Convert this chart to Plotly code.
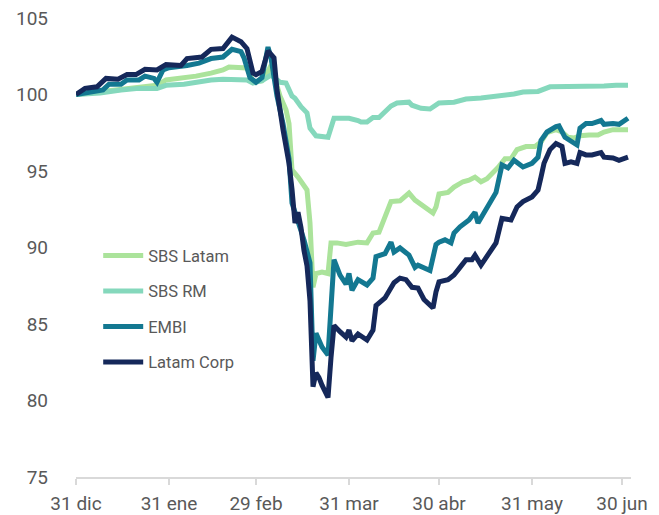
import plotly.graph_objects as go

# SBS Latam
sbs_latam_dates = ["2019-12-31", "2020-01-09", "2020-01-16", "2020-01-22", "2020-01-27", "2020-01-30",
                   "2020-02-05", "2020-02-09", "2020-02-14", "2020-02-18", "2020-02-20", "2020-02-26",
                   "2020-02-28", "2020-03-02", "2020-03-03", "2020-03-05", "2020-03-08", "2020-03-10",
                   "2020-03-11", "2020-03-12", "2020-03-14", "2020-03-16", "2020-03-17", "2020-03-18",
                   "2020-03-19", "2020-03-20", "2020-03-22", "2020-03-24", "2020-03-25", "2020-03-27",
                   "2020-03-30", "2020-04-03", "2020-04-06", "2020-04-08", "2020-04-10", "2020-04-12",
                   "2020-04-14", "2020-04-17", "2020-04-20", "2020-04-22", "2020-04-24", "2020-04-25",
                   "2020-04-28", "2020-04-29", "2020-04-30", "2020-05-03", "2020-05-05", "2020-05-08",
                   "2020-05-10", "2020-05-12", "2020-05-14", "2020-05-16", "2020-05-18", "2020-05-20",
                   "2020-05-22", "2020-05-24", "2020-05-26", "2020-05-29", "2020-06-01", "2020-06-03",
                   "2020-06-05", "2020-06-08", "2020-06-10", "2020-06-12", "2020-06-14", "2020-06-16",
                   "2020-06-19", "2020-06-22", "2020-06-24", "2020-06-27", "2020-07-02"]
sbs_latam = [100.0, 100.2, 100.4, 100.5, 100.6, 100.95,
             101.06, 101.2, 101.4, 101.6, 101.8, 101.73,
             100.85, 100.9, 101.1, 101.9, 99.9, 99.0,
             98.1, 95.07, 94.6, 93.95, 93.76, 91.6,
             87.4, 88.3, 88.4, 88.3, 90.3, 90.3,
             90.2, 90.35, 90.3, 90.95, 91.0, 92.0,
             93.0, 93.05, 93.56, 93.1, 92.8, 92.6,
             92.25, 92.65, 93.5, 93.6, 93.95, 94.3,
             94.4, 94.6, 94.3, 94.5, 94.85, 95.3,
             95.8, 95.8, 96.4, 96.6, 96.6, 96.9,
             97.5, 97.7, 97.55, 97.2, 97.15, 97.3,
             97.35, 97.35, 97.55, 97.7, 97.7]

# SBS RM
sbs_rm_dates = ["2019-12-31", "2020-01-08", "2020-01-15", "2020-01-21", "2020-01-27", "2020-01-30",
                "2020-02-05", "2020-02-09", "2020-02-14", "2020-02-18", "2020-02-23", "2020-02-26",
                "2020-02-28", "2020-03-02", "2020-03-05", "2020-03-08", "2020-03-10", "2020-03-12",
                "2020-03-13", "2020-03-15", "2020-03-17", "2020-03-18", "2020-03-20", "2020-03-24",
                "2020-03-26", "2020-03-29", "2020-03-31", "2020-04-03", "2020-04-04", "2020-04-06",
                "2020-04-08", "2020-04-10", "2020-04-14", "2020-04-16", "2020-04-20", "2020-04-21",
                "2020-04-24", "2020-04-27", "2020-04-30", "2020-05-05", "2020-05-09", "2020-05-14",
                "2020-05-18", "2020-05-21", "2020-05-25", "2020-05-28", "2020-06-02", "2020-06-06",
                "2020-06-10", "2020-06-15", "2020-06-19", "2020-06-24", "2020-06-28", "2020-07-02"]
sbs_rm = [100.0, 100.1, 100.3, 100.4, 100.4, 100.6,
          100.67, 100.8, 100.95, 101.0, 101.0, 100.95,
          100.75, 100.9, 101.27, 100.8, 100.75, 99.9,
          99.75, 99.2, 98.8, 97.8, 97.3, 97.2,
          98.45, 98.45, 98.45, 98.3, 98.2, 98.2,
          98.5, 98.5, 99.25, 99.45, 99.5, 99.3,
          99.1, 99.05, 99.45, 99.5, 99.7, 99.77,
          99.85, 99.97, 100.03, 100.16, 100.2, 100.5,
          100.5, 100.5, 100.55, 100.55, 100.6, 100.6]

# EMBI
embi_dates = ["2019-12-31", "2020-01-05", "2020-01-09", "2020-01-11", "2020-01-15", "2020-01-17",
              "2020-01-21", "2020-01-23", "2020-01-26", "2020-01-27", "2020-01-29", "2020-01-31",
              "2020-02-04", "2020-02-06", "2020-02-10", "2020-02-14", "2020-02-18", "2020-02-21",
              "2020-02-24", "2020-02-25", "2020-02-27", "2020-02-29", "2020-03-02", "2020-03-04",
              "2020-03-05", "2020-03-07", "2020-03-09", "2020-03-11", "2020-03-12", "2020-03-14",
              "2020-03-16", "2020-03-18", "2020-03-19", "2020-03-20", "2020-03-22", "2020-03-24",
              "2020-03-25", "2020-03-26", "2020-03-28", "2020-03-30", "2020-03-31", "2020-04-01",
              "2020-04-03", "2020-04-06", "2020-04-08", "2020-04-09", "2020-04-12", "2020-04-14",
              "2020-04-15", "2020-04-17", "2020-04-20", "2020-04-22", "2020-04-23", "2020-04-27",
              "2020-04-29", "2020-04-30", "2020-05-02", "2020-05-04", "2020-05-05", "2020-05-07",
              "2020-05-10", "2020-05-12", "2020-05-13", "2020-05-15", "2020-05-17", "2020-05-19",
              "2020-05-21", "2020-05-23", "2020-05-25", "2020-05-28", "2020-05-31", "2020-06-02",
              "2020-06-03", "2020-06-05", "2020-06-08", "2020-06-09", "2020-06-11", "2020-06-13",
              "2020-06-15", "2020-06-16", "2020-06-18", "2020-06-20", "2020-06-23", "2020-06-24",
              "2020-06-27", "2020-06-29", "2020-07-02"]
embi = [100.0, 100.2, 100.3, 100.67, 100.67, 100.95,
        100.95, 101.2, 101.05, 100.8, 101.6, 101.75,
        101.8, 101.9, 102.05, 102.35, 102.45, 102.95,
        102.8, 102.4, 101.1, 100.8, 101.1, 103.1,
        102.4, 99.9, 98.1, 95.8, 92.9, 91.8,
        90.5, 89.0, 82.6, 84.4, 83.5, 82.97,
        86.5, 89.2, 88.2, 87.6, 88.3, 87.2,
        87.9, 87.55, 88.0, 89.4, 89.6, 90.35,
        89.7, 89.97, 89.5, 88.7, 88.85, 88.5,
        90.2, 90.35, 90.5, 90.3, 90.95, 91.35,
        91.8, 92.3, 91.6, 92.25, 92.9, 93.6,
        95.4, 95.2, 95.7, 95.26, 95.5, 95.9,
        97.0, 97.55, 97.9, 97.95, 97.2, 96.9,
        96.7, 97.8, 98.1, 98.1, 98.3, 98.05,
        98.1, 98.05, 98.45]

# Latam Corp
latam_corp_dates = ["2019-12-31", "2020-01-03", "2020-01-07", "2020-01-10", "2020-01-14", "2020-01-17",
                    "2020-01-20", "2020-01-23", "2020-01-27", "2020-01-30", "2020-02-04", "2020-02-06",
                    "2020-02-11", "2020-02-14", "2020-02-18", "2020-02-21", "2020-02-24", "2020-02-26",
                    "2020-02-28", "2020-02-29", "2020-03-02", "2020-03-04", "2020-03-06", "2020-03-07",
                    "2020-03-09", "2020-03-11", "2020-03-12", "2020-03-13", "2020-03-14", "2020-03-15",
                    "2020-03-16", "2020-03-17", "2020-03-18", "2020-03-19", "2020-03-20", "2020-03-21",
                    "2020-03-22", "2020-03-23", "2020-03-24", "2020-03-25", "2020-03-26", "2020-03-28",
                    "2020-03-30", "2020-03-31", "2020-04-01", "2020-04-03", "2020-04-06", "2020-04-08",
                    "2020-04-09", "2020-04-12", "2020-04-14", "2020-04-15", "2020-04-17", "2020-04-19",
                    "2020-04-21", "2020-04-23", "2020-04-25", "2020-04-28", "2020-04-29", "2020-04-30",
                    "2020-05-03", "2020-05-05", "2020-05-07", "2020-05-09", "2020-05-11", "2020-05-12",
                    "2020-05-14", "2020-05-16", "2020-05-19", "2020-05-21", "2020-05-24", "2020-05-26",
                    "2020-05-28", "2020-05-31", "2020-06-02", "2020-06-03", "2020-06-04", "2020-06-06",
                    "2020-06-08", "2020-06-10", "2020-06-11", "2020-06-13", "2020-06-15", "2020-06-16",
                    "2020-06-18", "2020-06-20", "2020-06-23", "2020-06-24", "2020-06-27", "2020-06-29",
                    "2020-07-02"]
latam_corp = [100.0, 100.4, 100.5, 101.05, 101.0, 101.3,
              101.3, 101.65, 101.6, 101.95, 101.9, 102.35,
              102.45, 102.95, 103.0, 103.75, 103.45, 103.0,
              101.4, 101.3, 101.5, 102.85, 102.4, 100.3,
              97.7, 95.5, 93.8, 91.6, 92.3, 91.3,
              89.8, 88.8, 86.5, 80.9, 81.8, 81.5,
              81.0, 80.6, 80.2, 82.8, 84.9, 84.5,
              84.15, 84.6, 83.9, 84.35, 83.95, 84.6,
              86.2, 86.7, 87.4, 87.7, 88.0, 87.9,
              87.4, 87.35, 86.6, 86.05, 87.1, 87.75,
              87.9, 88.2, 88.7, 89.2, 89.2, 89.5,
              88.85, 89.4, 90.3, 91.9, 91.8, 92.65,
              93.0, 93.3, 93.75, 94.6, 95.5, 96.4,
              96.8, 96.6, 95.5, 95.6, 95.5, 96.2,
              96.05, 96.05, 96.2, 95.9, 95.85, 95.7,
              95.9]

tick_dates = ["2019-12-31", "2020-01-31", "2020-02-29", "2020-03-31", "2020-04-30", "2020-05-31", "2020-06-30"]
tick_labels = ["31 dic", "31 ene", "29 feb", "31 mar", "30 abr", "31 may", "30 jun"]

series = [
    ("SBS Latam", sbs_latam_dates, sbs_latam, "#ABE39B"),
    ("SBS RM", sbs_rm_dates, sbs_rm, "#85D8BC"),
    ("EMBI", embi_dates, embi, "#137891"),
    ("Latam Corp", latam_corp_dates, latam_corp, "#15285A"),
]

fig = go.Figure()
for name, x, y, color in series:
    fig.add_trace(go.Scatter(
        x=x, y=y, name=name, mode="lines", legendgroup=name,
        line=dict(color=color, width=5),
    ))

fig.update_layout(
    width=659, height=515,
    margin=dict(l=76, r=28, t=18, b=38),
    paper_bgcolor="white", plot_bgcolor="white",
    font=dict(family="Roboto", color="#595959", size=19),
    legend=dict(
        x=0.04, y=0.52, xanchor="left", yanchor="top",
        font=dict(size=16.5, color="#595959"),
        tracegroupgap=11, itemwidth=40,
        bgcolor="rgba(0,0,0,0)",
    ),
    showlegend=True,
)

fig.update_xaxes(
    range=["2019-12-31", "2020-07-03"],
    tickvals=tick_dates, ticktext=tick_labels,
    showgrid=False, zeroline=False, automargin=False,
    showline=True, linecolor="#D9D9D9", linewidth=2,
    ticks="outside", ticklen=6, tickcolor="#D9D9D9", tickwidth=2,
    ticklabelstandoff=2,
)
fig.update_yaxes(
    range=[75, 105], tickvals=[75, 80, 85, 90, 95, 100, 105],
    showgrid=False, zeroline=False, showline=False, automargin=False,
    ticks="", ticklabelstandoff=27,
)

# drop the default body margin so the figure sits at the window's corner
fig.write_html("out.html", config={"displayModeBar": False},
               post_script="document.body.style.margin='0';")
